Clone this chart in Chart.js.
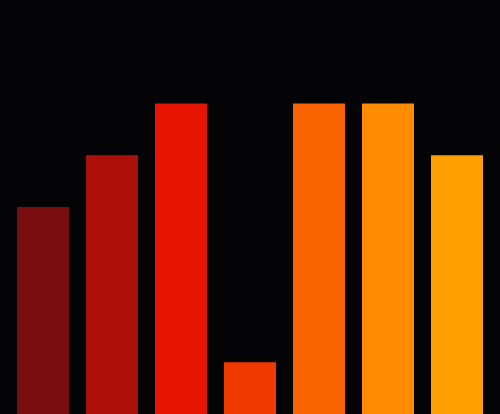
<!DOCTYPE html>
<html lang="en">
<head>
  <meta charset="UTF-8">
  <title>Bars</title>
  <script src="https://cdn.jsdelivr.net/npm/chart.js"></script>
  <style>
    html, body { margin: 0; padding: 0; background: #040406; }
    #wrap { width: 500px; height: 414px; }
  </style>
</head>
<body>
  <div id="wrap"><canvas id="barChart"></canvas></div>
  <script>
    const labels = ['A', 'B', 'C', 'D', 'E', 'F', 'G'];
    const values = [4, 5, 6, 1, 6, 6, 5];
    const colors = ['#7a0d0f', '#ab0f08', '#e61400', '#f03a00', '#fa6400', '#ff8c00', '#ffa000'];
    const yMax = 8;

    new Chart(document.getElementById('barChart'), {
      type: 'bar',
      data: {
        labels: labels,
        datasets: [{
          data: values,
          backgroundColor: colors,
          borderWidth: 0,
          categoryPercentage: 1,
          barPercentage: 0.754
        }]
      },
      options: {
        responsive: true,
        maintainAspectRatio: false,
        animation: false,
        layout: { padding: { left: 8.5, right: 8.5, top: 0, bottom: 0 } },
        plugins: { legend: { display: false }, tooltip: { enabled: false } },
        scales: {
          x: { display: false },
          y: { display: false, min: 0, max: yMax }
        }
      }
    });
  </script>
</body>
</html>
